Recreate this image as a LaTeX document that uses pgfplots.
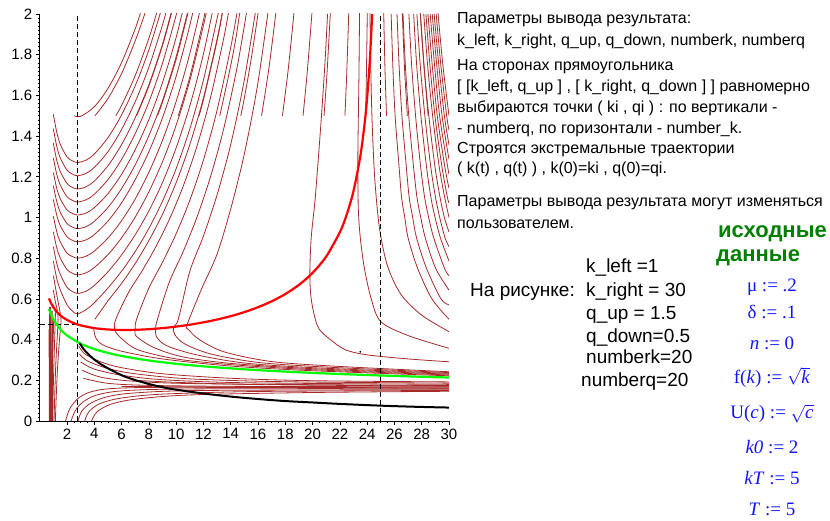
\documentclass[border=0pt]{standalone}
\usepackage{pgfplots}
\pgfplotsset{compat=1.18}
\usepackage{fontspec}
\setmainfont{Liberation Sans}
\newfontfamily\serf{Liberation Serif}
\definecolor{br}{RGB}{165,42,42}
\definecolor{mgreen}{RGB}{0,128,0}
\definecolor{mblue}{RGB}{20,20,255}
\definecolor{lime}{RGB}{0,255,0}
\begin{document}
\begin{tikzpicture}[x=1pt,y=1pt]
\path[use as bounding box] (0,0) rectangle (830,521);
\begin{axis}[at={(39.7pt,100pt)}, anchor=origin, scale only axis,
  width=409.3pt, height=407pt, xmin=0, xmax=30, ymin=0, ymax=2,
  axis lines=left, axis line style={-, line width=0.8pt},
  xtick={2,4,...,30}, ytick={0,0.2,0.4,0.6,0.8,1,1.2,1.4,1.6,1.8,2},
  yticklabels={0,0.2,0.4,0.6,0.8,1,1.2,1.4,1.6,1.8,2},
  minor x tick num=3, minor y tick num=9,
  tick align=outside, major tick length=4pt, minor tick length=2pt,
  tick style={black, line width=0.6pt},
  /pgf/number format/assume math mode=true,
  ticklabel style={font=\fontsize{15}{15}\selectfont},
  br/.style={color=br, line width=0.8pt, smooth},
]
% ---- left U-curves
\addplot[br] coordinates {(1,1.507)(1.25,1.419)(1.5,1.361)(2,1.298)(2.4,1.278)(2.78,1.27)(3.4,1.282)(4,1.312)(5,1.392)(6,1.504)(7,1.647)(8,1.823)(9,2.04)};
\addplot[br] coordinates {(1,1.436)(1.25,1.350)(1.5,1.294)(2,1.233)(2.4,1.213)(2.78,1.205)(3.4,1.217)(4,1.246)(5,1.323)(6,1.432)(7,1.569)(8,1.738)(9,1.946)(9.5,2.07)};
\addplot[br] coordinates {(1,1.365)(1.25,1.281)(1.5,1.227)(2,1.167)(2.4,1.148)(2.78,1.14)(3.4,1.151)(4,1.179)(5,1.254)(6,1.358)(7,1.490)(8,1.652)(9,1.851)(10,2.098)};
\addplot[br] coordinates {(1,1.293)(1.25,1.212)(1.5,1.160)(2,1.102)(2.4,1.084)(2.78,1.076)(3.4,1.087)(4,1.114)(5,1.186)(6,1.285)(7,1.412)(8,1.567)(9,1.758)(10,1.994)(10.5,2.13)};
\addplot[br] coordinates {(1,1.221)(1.25,1.143)(1.5,1.093)(2,1.037)(2.4,1.020)(2.78,1.012)(3.4,1.022)(4,1.048)(5,1.117)(6,1.212)(7,1.333)(8,1.481)(9,1.663)(10,1.885)(11,2.16)};
\addplot[br] coordinates {(1,1.156)(1.25,1.078)(1.5,1.027)(2,0.970)(2.4,0.953)(2.78,0.945)(3.4,0.955)(4,0.981)(5,1.049)(6,1.142)(7,1.259)(8,1.402)(9,1.574)(10,1.790)(11,2.051)};
\addplot[br] coordinates {(1,1.089)(1.25,1.011)(1.5,0.961)(2,0.905)(2.4,0.888)(2.78,0.88)(3.4,0.890)(4,0.916)(5,0.982)(6,1.072)(7,1.186)(8,1.323)(9,1.490)(10,1.694)(11,1.944)(12,2.24)};
\addplot[br] coordinates {(1,1.006)(1.25,0.930)(1.5,0.881)(2,0.825)(2.4,0.808)(2.78,0.80)(3.4,0.810)(4,0.835)(5,0.899)(6,0.984)(7,1.091)(8,1.222)(9,1.379)(10,1.570)(11,1.805)(12,2.09)};
\addplot[br] coordinates {(1,0.929)(1.25,0.851)(1.5,0.802)(2,0.744)(2.4,0.726)(2.78,0.718)(3.4,0.728)(4,0.754)(5,0.817)(6,0.900)(7,1.002)(8,1.126)(9,1.274)(10,1.453)(11,1.672)(12,1.943)(12.5,2.1)};
\addplot[br] coordinates {(1,0.857)(1.25,0.774)(1.5,0.722)(2,0.657)(2.4,0.636)(2.78,0.627)(3.4,0.638)(4,0.666)(5,0.733)(6,0.816)(7,0.915)(8,1.032)(9,1.172)(10,1.342)(11,1.548)(12,1.803)(13,2.12)};
\addplot[br] coordinates {(1,0.786)(1.25,0.70)(1.5,0.646)(2,0.571)(2.4,0.540)(2.78,0.526)(3.5,0.552)(4,0.581)(5,0.653)(6,0.736)(7,0.833)(8,0.946)(9,1.08)(10,1.24)(11,1.435)(12,1.675)(13,1.977)(13.2,2.04)};
% ---- left, below the stable path
\addplot[br] coordinates {(1,0.714)(1.25,0.621)(1.45,0.55)(1.55,0.51)(1.55,0.47)(1.45,0.4)(1.3,0.25)(1.2,0.1)(1.15,0)};
\addplot[br] coordinates {(1,0.643)(1.15,0.585)(1.3,0.54)(1.35,0.5)(1.3,0.43)(1.18,0.28)(1.1,0.12)(1.05,0)};
\addplot[br] coordinates {(1,0.571)(1.1,0.55)(1.15,0.53)(1.12,0.45)(1.05,0.3)(0.98,0.12)(0.95,0)};
\addplot[br, line width=1.8pt] coordinates {(1,0.5)(0.95,0.4)(0.88,0.2)(0.85,0)};
\addplot[br, line width=1.8pt] coordinates {(0.75,0.56)(0.77,0.35)(0.8,0.15)(0.8,0)};
\addplot[br, line width=1.4pt] coordinates {(0.9,0.54)(0.9,0.35)(0.92,0.15)(0.93,0)};
\addplot[br, line width=1.4pt] coordinates {(0.7,0.45)(0.72,0.25)(0.73,0)};
% ---- top edge
\addplot[br] coordinates {(2.53,1.5)(3,1.497)(4,1.544)(5,1.634)(6,1.761)(7,1.927)(7.5,2.03)};
\addplot[br] coordinates {(4.05,1.5)(5,1.584)(6,1.707)(7,1.868)(7.7,2.0)(8,2.06)};
\addplot[br] coordinates {(5.58,1.5)(6,1.551)(7,1.697)(8,1.88)(8.55,2.0)(8.8,2.06)};
\addplot[br] coordinates {(7.1,1.5)(8,1.646)(9,1.845)(9.64,2.0)(9.9,2.07)};
\addplot[br] coordinates {(8.63,1.5)(9,1.567)(10,1.777)(10.85,2.0)(11,2.04)};
\addplot[br] coordinates {(10.16,1.5)(11,1.69)(12,1.97)(12.2,2.04)};
\addplot[br] coordinates {(11.68,1.5)(12,1.578)(13,1.867)(13.37,2)(13.5,2.05)};
\addplot[br] coordinates {(13.2,1.5)(14,1.746)(14.4,1.89)(14.65,2)(14.8,2.06)};
\addplot[br] coordinates {(14.74,1.5)(15,1.587)(15.5,1.778)(16,2.0)(16.1,2.05)};
\addplot[br] coordinates {(16.26,1.5)(16.8,1.734)(17.3,2.0)(17.4,2.06)};
\addplot[br] coordinates {(17.79,1.5)(18.2,1.718)(18.63,2.0)(18.7,2.05)};
\addplot[br] coordinates {(19.3,1.5)(19.6,1.707)(19.95,2.0)(20,2.05)};
\addplot[br] coordinates {(20.84,1.5)(21.05,1.70)(21.3,2.0)(21.35,2.05)};
\addplot[br] coordinates {(22.37,1.5)(22.5,1.70)(22.65,2.0)(22.68,2.05)};
\addplot[br] coordinates {(23.89,1.5)(23.95,1.72)(24,1.95)(24.02,2.05)};
\addplot[br] coordinates {(25.42,1.5)(25.3,1.75)(25.2,2.05)};
\addplot[br] coordinates {(26.95,1.5)(26.75,1.72)(26.58,2.0)(26.55,2.05)};
\addplot[br] coordinates {(28.47,1.5)(28.2,1.72)(27.9,2.0)(27.85,2.05)};
\addplot[br] coordinates {(30,1.5)(29.55,1.75)(29.2,2.0)(29.15,2.05)};
% ---- right edge
\addplot[br] coordinates {(30,0.5)(28.75,0.6)(27.7,0.75)(27.0,0.9)(26.76,1.0)(26.52,1.1)(26.34,1.25)(26.05,1.5)(25.88,1.75)(25.76,2.0)};
\addplot[br] coordinates {(30,0.571)(29.41,0.6)(28.35,0.75)(27.62,0.9)(27.34,1.0)(27.08,1.1)(26.87,1.25)(26.55,1.5)(26.34,1.75)(26.19,2.0)};
\addplot[br] coordinates {(30,0.643)(29.02,0.75)(28.26,0.9)(27.93,1.0)(27.65,1.1)(27.4,1.25)(27.05,1.5)(26.8,1.75)(26.63,2.0)};
\addplot[br] coordinates {(30,0.714)(29.67,0.75)(28.88,0.9)(28.51,1.0)(28.21,1.1)(27.92,1.25)(27.55,1.5)(27.26,1.75)(27.06,2.0)};
\addplot[br] coordinates {(30,0.786)(29.37,0.9)(28.98,1.0)(28.67,1.1)(28.35,1.25)(27.94,1.5)(27.63,1.75)(27.41,2.0)};
\addplot[br] coordinates {(30,0.857)(29.71,0.9)(29.32,1.0)(29.01,1.1)(28.66,1.25)(28.23,1.5)(27.89,1.75)(27.65,2.0)};
\addplot[br] coordinates {(30,0.929)(29.66,1.0)(29.34,1.1)(28.97,1.25)(28.52,1.5)(28.16,1.75)(27.90,2.0)};
\addplot[br] coordinates {(30,1.0)(29.68,1.1)(29.28,1.25)(28.8,1.5)(28.43,1.75)(28.15,2.0)};
\addplot[br] coordinates {(30,1.071)(29.88,1.1)(29.48,1.25)(28.97,1.5)(28.6,1.75)(28.31,2.0)};
\addplot[br] coordinates {(30,1.143)(29.69,1.25)(29.14,1.5)(28.77,1.75)(28.46,2.0)};
\addplot[br] coordinates {(30,1.214)(29.9,1.25)(29.31,1.5)(28.94,1.75)(28.62,2.0)};
\addplot[br] coordinates {(30,1.286)(29.49,1.5)(29.1,1.75)(28.77,2.0)};
\addplot[br] coordinates {(30,1.357)(29.66,1.5)(29.25,1.75)(28.91,2.0)};
\addplot[br] coordinates {(30,1.429)(29.83,1.5)(29.4,1.75)(29.06,2.0)};
% ---- bottom edge trajectories
\addplot[br] coordinates {(4.05,0.5)(5,0.59)(6,0.676)(7,0.774)(8,0.886)(9,1.016)(10,1.171)(11,1.358)(12,1.587)(13,1.876)(13.4,2.01)};
\addplot[br] coordinates {(3.95,0.458)(4.1,0.41)(4.6,0.375)(6,0.343)(9,0.305)(14,0.27)(20,0.247)(30,0.222)};
\addplot[br] coordinates {(30,0.226)(20,0.252)(14,0.277)(10,0.305)(7.2,0.35)(6.0,0.405)(5.5,0.448)(5.58,0.5)(6.5,0.63)(7.5,0.737)(8.5,0.855)(9.5,0.99)(10.5,1.151)(11.5,1.345)(12.5,1.584)(13.5,1.885)(14,2.07)};
\addplot[br] coordinates {(30,0.23)(20,0.257)(14,0.283)(10.5,0.315)(8.4,0.36)(7.1,0.415)(7.0,0.448)(7.1,0.5)(8,0.653)(9,0.78)(10,0.92)(11,1.084)(12,1.282)(13,1.527)(14,1.836)(14.5,2.02)};
\addplot[br] coordinates {(30,0.234)(20,0.262)(15,0.285)(11.5,0.325)(9.3,0.37)(8.55,0.415)(8.5,0.454)(8.63,0.5)(9.5,0.683)(10.5,0.83)(11.5,0.997)(12.5,1.196)(13.5,1.44)(14.5,1.749)(15.25,2.045)};
\addplot[br] coordinates {(30,0.238)(21,0.265)(16,0.288)(12.5,0.33)(10.6,0.38)(9.9,0.425)(9.8,0.462)(10.16,0.5)(11,0.735)(12,0.909)(13,1.111)(14,1.359)(15,1.677)(16,2.09)};
\addplot[br] coordinates {(30,0.242)(22,0.268)(17,0.292)(13.5,0.34)(11.7,0.4)(10.9,0.45)(10.8,0.472)(11.68,0.62)(12,0.67)(13,0.82)(14,1.042)(15,1.313)(16,1.664)(17,2.14)};
\addplot[br] coordinates {(30,0.291)(27,0.305)(24,0.325)(22.4,0.35)(21.3,0.4)(20.5,0.45)(20.2,0.5)(19.9,0.6)(19.8,0.72)(19.9,0.9)(20.2,1.1)(20.6,1.45)(20.9,1.75)(21.1,2.0)};
\addplot[br] coordinates {(30,0.357)(27,0.42)(25,0.488)(24.3,0.6)(23.8,0.75)(23.5,0.9)(23.35,1.05)(23.32,1.3)(23.4,1.7)(23.45,2.05)};
\addplot[br] coordinates {(30,0.439)(28,0.52)(26.5,0.62)(25.5,0.76)(24.9,0.95)(24.55,1.2)(24.35,1.5)(24.25,1.8)(24.2,2.05)};
% ---- lower region (fan)
\addplot[br] coordinates {(2.85,0.37)(3.3,0.33)(4.5,0.29)(6,0.262)(9,0.232)(14,0.21)(20,0.198)(30,0.192)};
\addplot[br] coordinates {(2.9,0.33)(3.5,0.295)(5,0.258)(7,0.232)(11,0.207)(18,0.193)(30,0.186)};
\addplot[br] coordinates {(3,0.29)(4,0.255)(6,0.225)(9,0.203)(15,0.188)(30,0.18)};
\addplot[br] coordinates {(3.1,0.25)(4.5,0.215)(7,0.195)(12,0.183)(30,0.174)};
\addplot[br] coordinates {(3.2,0.21)(5,0.185)(8,0.175)(15,0.17)(30,0.168)};
\addplot[br] coordinates {(1.9,0)(2.2,0.06)(2.8,0.11)(3.6,0.14)(5,0.158)(8,0.165)(15,0.165)(30,0.163)};
\addplot[br] coordinates {(2.3,0)(2.6,0.05)(3.2,0.095)(4.2,0.128)(6,0.148)(10,0.157)(20,0.159)(30,0.158)};
\addplot[br] coordinates {(2.8,0)(3.1,0.05)(3.8,0.09)(5,0.12)(7,0.138)(12,0.15)(30,0.154)};
\addplot[br] coordinates {(3.3,0)(3.6,0.045)(4.4,0.085)(6,0.113)(9,0.132)(16,0.145)(30,0.15)};
\addplot[br] coordinates {(3.8,0)(4.2,0.045)(5.2,0.082)(7,0.107)(11,0.128)(20,0.14)(30,0.146)};
\addplot[br] coordinates {(7,0.2)(10,0.19)(15,0.18)(22,0.175)(30,0.171)};
\addplot[br] coordinates {(6,0.17)(10,0.168)(18,0.166)(30,0.161)};
% ---- dashed guides
\addplot[black, line width=0.7pt, dash pattern=on 5pt off 3pt] coordinates {(2.778,0)(2.778,2)};
\addplot[black, line width=0.7pt, dash pattern=on 5pt off 3pt] coordinates {(25,0)(25,2)};
\addplot[black, line width=0.7pt, dash pattern=on 5pt off 3pt] coordinates {(0,0.474)(2.778,0.474)};
% ---- red isocline
\addplot[red, line width=2.2pt, smooth] coordinates {(0.68,0.6025)(0.8,0.5835)(1,0.559)(1.3,0.5329)(1.6,0.5144)(2,0.4965)(2.5,0.4809)(3,0.4699)(4,0.4564)(5,0.4497)(6,0.4473)(7,0.448)(8,0.4511)(9,0.4564)(10,0.4638)(11,0.4732)(12,0.4847)(13,0.4986)(14,0.5152)(15,0.5351)(16,0.559)(17,0.588)(18,0.6237)(19,0.6688)(20,0.7277)(21,0.8083)(22,0.9278)(22.5,1.0135)(23,1.1299)(23.5,1.301)(23.8,1.4525)(24,1.5891)(24.2,1.7755)(24.371,2.0)};
% ---- green
\addplot[lime, line width=2.2pt, smooth] coordinates {(0.68,0.5506)(0.8,0.5287)(1,0.5)(1.5,0.4518)(2,0.4204)(3,0.3799)(4,0.3536)(5,0.3344)(6,0.3195)(8,0.2973)(10,0.2812)(12,0.2686)(15,0.2541)(18,0.2427)(21,0.2336)(24,0.2259)(27,0.2193)(30,0.2136)};
% ---- black
\addplot[black, line width=2pt, smooth] coordinates {(2.93,0.382)(3.2,0.355)(3.5,0.333)(4,0.302)(4.76,0.268)(6,0.225)(7,0.201)(8,0.182)(9,0.166)(10,0.154)(12,0.135)(14,0.12)(16,0.108)(18,0.098)(20,0.091)(22,0.084)(24,0.078)(26,0.073)(28,0.069)(30,0.066)};
\addplot[black, only marks, mark=*, mark size=0.6pt] coordinates {(23.5,0.34)};
\end{axis}
% ---- text
\begin{scope}[every node/.style={anchor=base west, inner sep=0pt}]
\node[font=\fontsize{16}{16}\selectfont] at (457,497) {Параметры вывода результата:};
\node[font=\fontsize{16}{16}\selectfont] at (457,475) {k\_left, k\_right, q\_up, q\_down, numberk, numberq};
\node[font=\fontsize{16}{16}\selectfont] at (457,450) {На сторонах прямоугольника};
\node[font=\fontsize{16}{16}\selectfont] at (457,429) {[ [k\_left, q\_up ] , [ k\_right, q\_down ] ] равномерно};
\node[font=\fontsize{16}{16}\selectfont] at (457,408) {выбираются точки ( ki , qi ) : по вертикали -};
\node[font=\fontsize{16}{16}\selectfont] at (457,387) {- numberq, по горизонтали - number\_k.};
\node[font=\fontsize{16}{16}\selectfont] at (457,367) {Строятся экстремальные траектории};
\node[font=\fontsize{16}{16}\selectfont] at (457,347) {( k(t) , q(t) ) , k(0)=ki , q(0)=qi.};
\node[font=\fontsize{16}{16}\selectfont] at (457,314) {Параметры вывода результата могут изменяться};
\node[font=\fontsize{16}{16}\selectfont] at (457,292) {пользователем.};
\node[font=\fontsize{22}{22}\selectfont\bfseries, text=mgreen] at (718,283) {исходные};
\node[font=\fontsize{22}{22}\selectfont\bfseries, text=mgreen] at (716,259) {данные};
\node[font=\fontsize{19}{19}\selectfont] at (470,224) {На рисунке:};
\node[font=\fontsize{19}{19}\selectfont] at (586,248) {k\_left =1};
\node[font=\fontsize{19}{19}\selectfont] at (586,224) {k\_right = 30};
\node[font=\fontsize{19}{19}\selectfont] at (586,201) {q\_up = 1.5};
\node[font=\fontsize{19}{19}\selectfont] at (586,178) {q\_down=0.5};
\node[font=\fontsize{19}{19}\selectfont] at (586,157) {numberk=20};
\node[font=\fontsize{19}{19}\selectfont] at (581,134) {numberq=20};
\end{scope}
\begin{scope}[every node/.style={anchor=base, inner sep=0pt, text=mblue, font=\serf\fontsize{19}{19}\selectfont}]
\node at (772,229) {μ := .2};
\node at (772,202) {δ := .1};
\node at (772,171) {\textit{n} := 0};
\node at (772,137) {f(\textit{k}) := \color{mblue}$\sqrt{\mbox{\textit{k}}}$};
\node at (772,102) {U(\textit{c}) := \color{mblue}$\sqrt{\mbox{\textit{c}}}$};
\node at (772,67) {\textit{k0} := 2};
\node at (772,36) {\textit{kT} := 5};
\node at (772,5) {\textit{T} := 5};
\end{scope}
\end{tikzpicture}
\end{document}
